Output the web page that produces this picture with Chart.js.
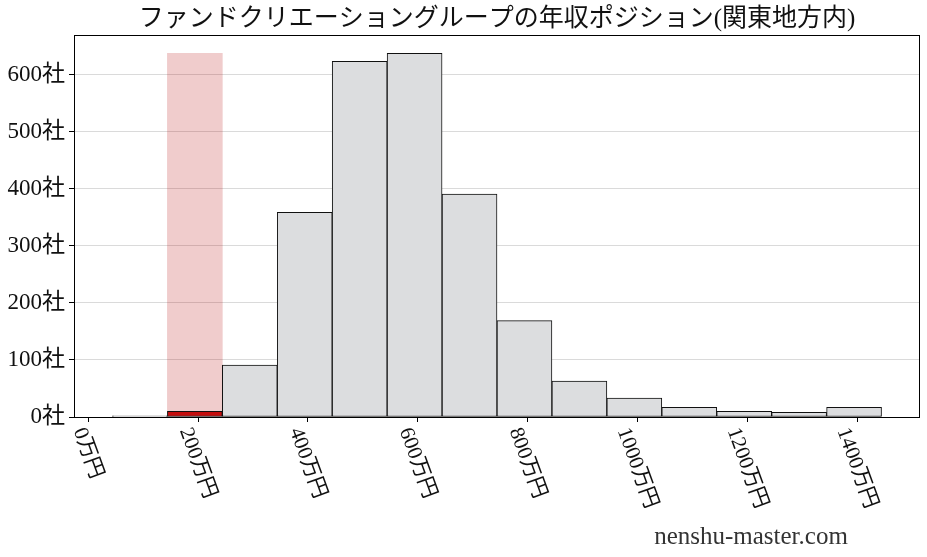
<!DOCTYPE html>
<html>
<head>
<meta charset="utf-8">
<script src="https://cdn.jsdelivr.net/npm/chart.js@4.4.1/dist/chart.umd.min.js"></script>
<style>
html,body{margin:0;padding:0;background:#fff;}
#wrap{width:927px;height:557px;position:relative;}
</style>
</head>
<body>
<div id="wrap"><canvas id="c"></canvas></div>
<script>
const titleText = 'ファンドクリエーショングループの年収ポジション(関東地方内)';
const watermark = 'nenshu-master.com';
const binCenters = [95,195,295,395,495,595,695,795,895,995,1095,1195,1295,1395];
const counts = [2,10,91,359,624,638,391,169,63,33,17,10,8,17];
const highlightIndex = 1;
const xTickValues = [0,200,400,600,800,1000,1200,1400];
const xTickLabels = ['0万円','200万円','400万円','600万円','800万円','1000万円','1200万円','1400万円'];
const yTickValues = [0,100,200,300,400,500,600];
const yTickLabels = ['0社','100社','200社','300社','400社','500社','600社'];

const FONT = "'Liberation Serif','Noto Sans CJK JP',serif";

const barColors = counts.map((v,i)=> i===highlightIndex ? '#c40d0d' : '#dcdddf');
const mainData = binCenters.map((x,i)=>({x:x,y:counts[i]}));
const bandData = [{x:binCenters[highlightIndex], y:Math.max(...counts)}];

const decor = {
  id:'decor',
  afterDraw(chart){
    const ctx = chart.ctx, a = chart.chartArea, xs = chart.scales.x;
    ctx.save();
    // frame
    ctx.strokeStyle = '#000'; ctx.lineWidth = 1;
    ctx.strokeRect(Math.round(a.left)+0.5, Math.round(a.top)+0.5, Math.round(a.right-a.left)-1, Math.round(a.bottom-a.top));
    // x tick marks
    xTickValues.forEach(v=>{
      const px = Math.round(xs.getPixelForValue(v))+0.5;
      ctx.beginPath(); ctx.moveTo(px, a.bottom); ctx.lineTo(px, a.bottom+5); ctx.stroke();
    });
    // title
    ctx.fillStyle = '#111';
    ctx.font = "25px " + FONT;
    ctx.textAlign = 'center'; ctx.textBaseline = 'middle';
    ctx.fillText(titleText, (a.left+a.right)/2, 19);
    // rotated x tick labels
    ctx.font = "21px " + FONT;
    const ang = 70*Math.PI/180;
    xTickValues.forEach((v,i)=>{
      const lbl = xTickLabels[i];
      const w = ctx.measureText(lbl).width, h = 21;
      const bh = w*Math.sin(ang) + h*Math.cos(ang);
      const px = xs.getPixelForValue(v);
      ctx.save();
      ctx.translate(px, a.bottom + 8 + bh/2);
      ctx.rotate(ang);
      ctx.textAlign='center'; ctx.textBaseline='middle';
      ctx.fillText(lbl, 0, 0);
      ctx.restore();
    });
    // watermark
    ctx.font = "25px " + FONT;
    ctx.fillStyle = '#333';
    ctx.textAlign='center'; ctx.textBaseline='middle';
    ctx.fillText(watermark, 751, 537);
    ctx.restore();
  }
};

new Chart(document.getElementById('c'), {
  type:'bar',
  data:{
    datasets:[
      {data:mainData, backgroundColor:barColors, borderColor:'#111', borderWidth:1, borderSkipped:false,
       barPercentage:1, categoryPercentage:1, grouped:false, order:1},
      {data:bandData, backgroundColor:'rgba(180,0,0,0.2)', borderWidth:0,
       barPercentage:1, categoryPercentage:1, grouped:false, order:2}
    ]
  },
  options:{
    responsive:true, maintainAspectRatio:false, animation:false,
    layout:{padding:{top:35,right:7,left:0,bottom:0}},
    plugins:{legend:{display:false}, tooltip:{enabled:false}, title:{display:false}},
    scales:{
      x:{type:'linear', min:-25, max:1515, offset:false,
         border:{display:false},
         grid:{display:false},
         ticks:{display:false, stepSize:200},
         afterFit(s){ s.height = 140; }
      },
      y:{min:0, max:670,
         border:{display:false},
         grid:{color:'#dadada', lineWidth:1, tickLength:5, tickColor:'#000'},
         afterBuildTicks(s){ s.ticks = yTickValues.map(v=>({value:v})); },
         ticks:{color:'#111', padding:4, font:{family:FONT, size:23},
                callback:(v)=>{const i=yTickValues.indexOf(v); return i>=0?yTickLabels[i]:'';}},
         afterFit(s){ s.width = 74; }
      }
    }
  },
  plugins:[decor]
});
</script>
</body>
</html>
